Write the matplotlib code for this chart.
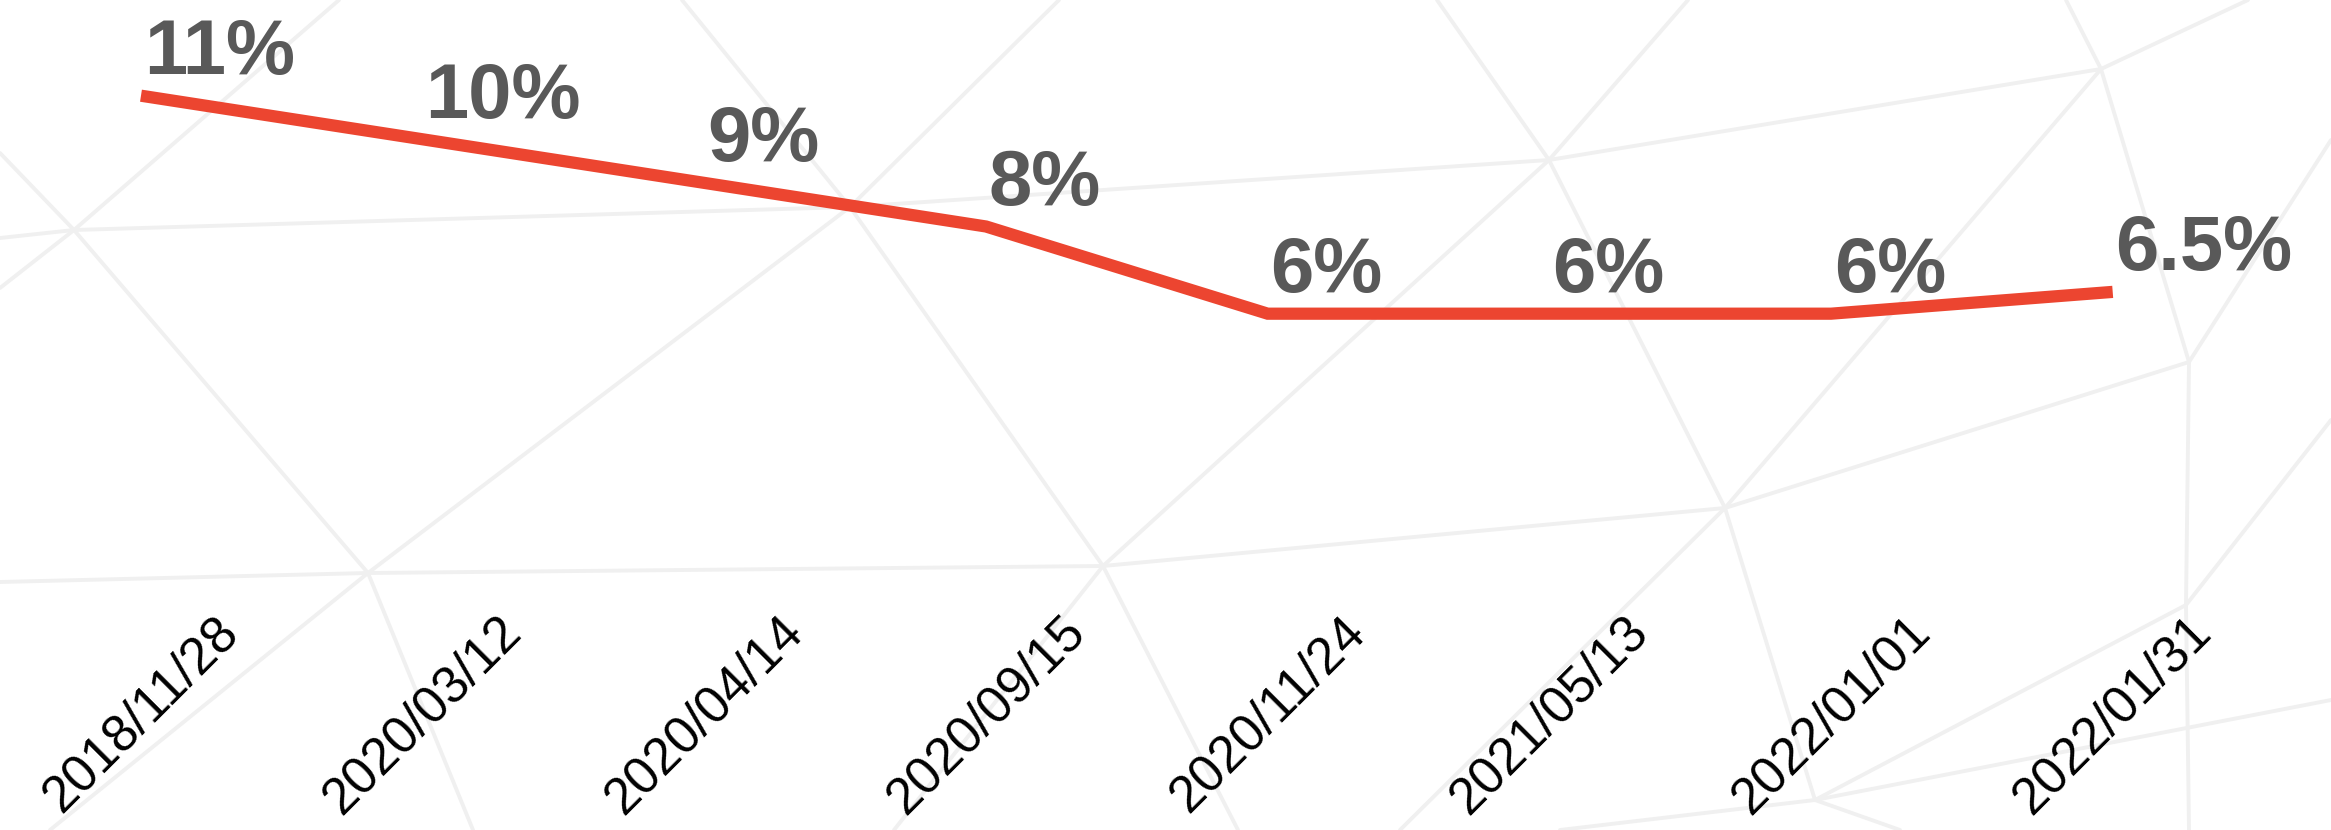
import matplotlib
matplotlib.use("Agg")
import matplotlib.pyplot as plt
from matplotlib.lines import Line2D

# ---- data ----
dates = ["2018/11/28", "2020/03/12", "2020/04/14", "2020/09/15",
         "2020/11/24", "2021/05/13", "2022/01/01", "2022/01/31"]
rates = [11, 10, 9, 8, 6, 6, 6, 6.5]
rate_labels = ["11%", "10%", "9%", "8%", "6%", "6%", "6%", "6.5%"]

W, H = 2331, 830
fig = plt.figure(figsize=(W / 100, H / 100), dpi=100)
fig.patch.set_facecolor("white")

# ---- faint decorative background mesh (figure pixel coords) ----
nodes = {
    "P1": (74, 230), "P2": (368, 573), "P3": (850, 207), "P4": (1103, 566),
    "P5": (1549, 160), "P6": (1725, 508), "P7": (2101, 69), "P8": (2189, 362),
    "P9": (1815, 800), "P10": (2186, 605),
}
def pt(p):
    return nodes[p] if isinstance(p, str) else p
edges = [
    ((0, 238), "P1"), ("P1", "P3"), ("P3", "P5"), ("P5", "P7"), ("P7", (2248, 0)),
    ((0, 582), "P2"), ("P2", "P4"), ("P4", "P6"), ("P6", "P8"), ("P8", (2331, 140)),
    ((0, 153), "P1"), ("P1", "P2"), ("P2", (473, 830)), ((0, 288), "P1"), ("P1", (339, 0)),
    ("P2", "P3"), ("P2", (50, 830)), ("P3", (1059, 0)), ((682, 0), "P3"),
    ("P3", "P4"), ("P4", (894, 830)), ("P4", (1238, 830)), ("P4", "P5"),
    ("P5", (1688, 0)), ((1437, 0), "P5"), ("P5", "P6"), ("P6", "P7"),
    ("P7", "P8"), ("P7", (2066, 0)), ("P8", "P10"), ("P10", (2189, 830)),
    ("P10", "P9"), ("P6", "P9"), ("P9", (1560, 830)), ("P9", (1900, 830)),
    ("P10", (2331, 420)), ("P9", (2331, 700)), ("P6", (1400, 830)),
]
for a, b in edges:
    (x0, y0), (x1, y1) = pt(a), pt(b)
    fig.add_artist(Line2D([x0 / W, x1 / W], [1 - y0 / H, 1 - y1 / H],
                          transform=fig.transFigure, color="#f0f0f0",
                          lw=2.8, zorder=0, solid_capstyle="round"))

# ---- main axes ----
ax = fig.add_axes([0, 0.3069, 1, 0.6931])
ax.patch.set_alpha(0)
x = list(range(len(dates)))
ax.plot(x, rates, color="#EC4530", lw=8.8, solid_capstyle="butt",
        solid_joinstyle="miter", zorder=3)

for xi, yi, lab in zip(x, rates, rate_labels):
    ax.annotate(lab, (xi, yi), xytext=(2, 15.5), textcoords="offset points",
                ha="left", va="baseline", fontsize=56, fontweight="bold",
                color="#595959", family="Liberation Sans", zorder=4)

ax.set_xlim(-0.5005, 7.775)
ax.set_ylim(0, 13.195)
ax.set_xticks(x)
ax.set_xticklabels(dates, rotation=45, ha="center", fontsize=37,
                   family="Liberation Sans", color="black")
ax.tick_params(axis="x", length=0, pad=23)
ax.set_yticks([])
for s in ax.spines.values():
    s.set_visible(False)

fig.savefig("out.png", dpi=100, facecolor="white")
